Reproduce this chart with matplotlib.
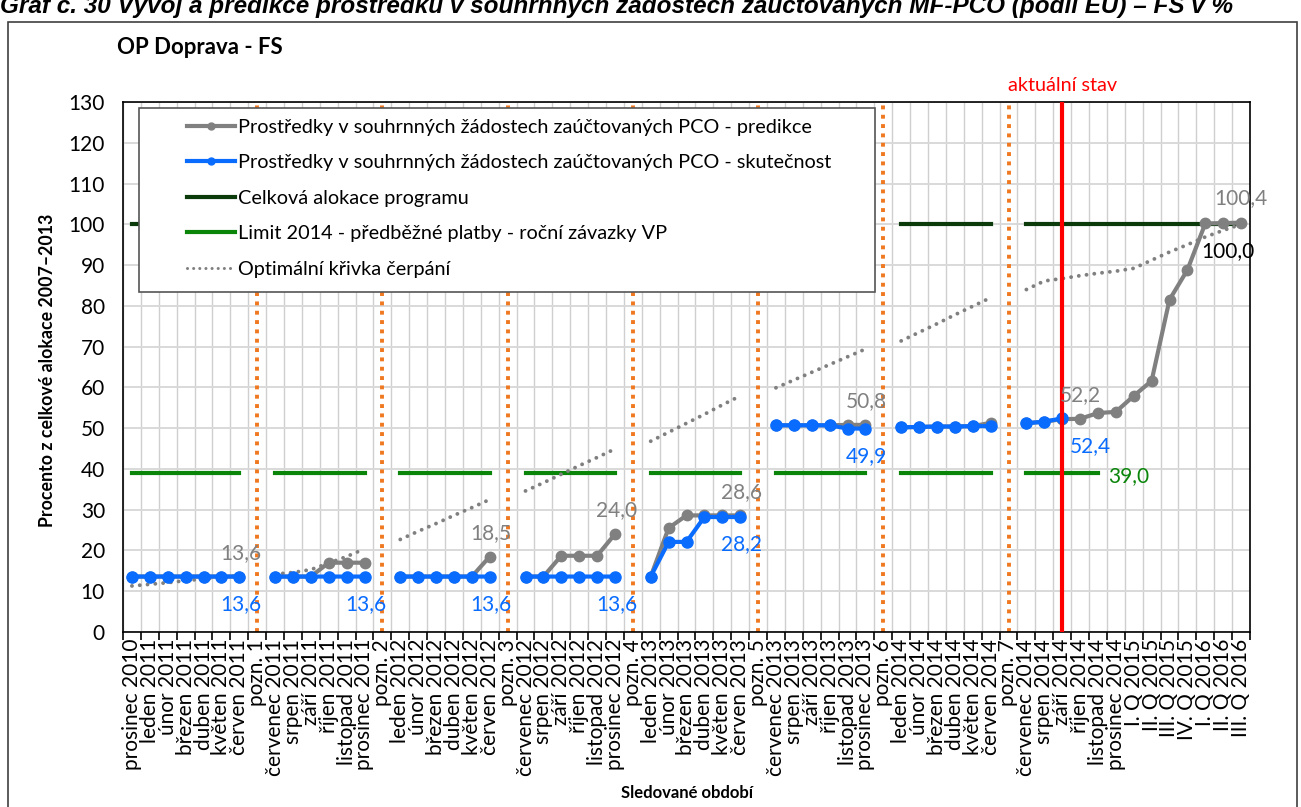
import numpy as np
import matplotlib.pyplot as plt
from matplotlib.lines import Line2D
from matplotlib.patches import Rectangle

plt.rcParams['font.family'] = ['Lato', 'DejaVu Sans']

nan = np.nan

obdobi = [
    'prosinec 2010', 'leden 2011', 'únor 2011', 'březen 2011', 'duben 2011', 'květen 2011', 'červen 2011',
    'pozn. 1',
    'červenec 2011', 'srpen 2011', 'září 2011', 'říjen 2011', 'listopad 2011', 'prosinec 2011',
    'pozn. 2',
    'leden 2012', 'únor 2012', 'březen 2012', 'duben 2012', 'květen 2012', 'červen 2012',
    'pozn. 3',
    'červenec 2012', 'srpen 2012', 'září 2012', 'říjen 2012', 'listopad 2012', 'prosinec 2012',
    'pozn. 4',
    'leden 2013', 'únor 2013', 'březen 2013', 'duben 2013', 'květen 2013', 'červen 2013',
    'pozn. 5',
    'červenec 2013', 'srpen 2013', 'září 2013', 'říjen 2013', 'listopad 2013', 'prosinec 2013',
    'pozn. 6',
    'leden 2014', 'únor 2014', 'březen 2014', 'duben 2014', 'květen 2014', 'červen 2014',
    'pozn. 7',
    'červenec 2014', 'srpen 2014', 'září 2014', 'říjen 2014', 'listopad 2014', 'prosinec 2014',
    'I. Q 2015', 'II. Q 2015', 'III. Q 2015', 'IV. Q 2015', 'I. Q 2016', 'II. Q 2016', 'III. Q 2016',
]

# PCO - predikce (gray)
predikce = [
    13.6, 13.6, 13.6, 13.6, 13.6, 13.6, 13.6, nan,
    13.6, 13.6, 13.6, 17.0, 17.0, 17.0, nan,
    13.6, 13.6, 13.6, 13.6, 13.6, 18.5, nan,
    13.6, 13.6, 18.7, 18.7, 18.7, 24.0, nan,
    13.6, 25.5, 28.6, 28.6, 28.6, 28.6, nan,
    50.7, 50.7, 50.7, 50.7, 50.8, 50.8, nan,
    50.2, 50.3, 50.4, 50.4, 50.5, 51.3, nan,
    51.2, 51.6, 52.2, 52.3, 53.7, 54.0, 57.9, 61.6, 81.5, 88.8, 100.2, 100.3, 100.4,
]

# PCO - skutecnost (blue)
skutecnost = [
    13.6, 13.6, 13.6, 13.6, 13.6, 13.6, 13.6, nan,
    13.6, 13.6, 13.6, 13.6, 13.6, 13.6, nan,
    13.6, 13.6, 13.6, 13.6, 13.6, 13.6, nan,
    13.6, 13.6, 13.6, 13.6, 13.6, 13.6, nan,
    13.6, 22.1, 22.1, 28.2, 28.2, 28.2, nan,
    50.7, 50.7, 50.7, 50.7, 49.9, 49.9, nan,
    50.2, 50.3, 50.4, 50.4, 50.5, 50.5, nan,
    51.2, 51.6, 52.4, nan, nan, nan, nan, nan, nan, nan, nan, nan, nan,
]

optimalni = [
    11.3, 11.7, 12.1, 12.6, 13.0, 13.4, 13.8, nan,
    14.2, 14.6, 15.3, 16.9, 18.5, 20.4, nan,
    22.7, 24.7, 26.6, 28.6, 30.5, 32.5, nan,
    34.6, 36.6, 38.7, 40.8, 42.8, 44.9, nan,
    46.8, 49.0, 51.2, 53.4, 55.7, 57.9, nan,
    59.9, 61.8, 63.7, 65.6, 67.5, 69.4, nan,
    71.4, 73.5, 75.6, 77.8, 79.9, 82.0, nan,
    84.0, 86.1, 86.7, 87.4, 88.0, 88.5, 89.2, 91.2, 93.2, 95.0, 96.9, 98.5, 100.0,
]

alokace = [
    100, 100, 100, 100, 100, 100, 100, nan,
    100, 100, 100, 100, 100, 100, nan,
    100, 100, 100, 100, 100, 100, nan,
    100, 100, 100, 100, 100, 100, nan,
    100, 100, 100, 100, 100, 100, nan,
    100, 100, 100, 100, 100, 100, nan,
    100, 100, 100, 100, 100, 100, nan,
    100, 100, 100, 100, 100, 100, 100, 100, 100, 100, 100, 100, 100,
]

limit = [
    39.0, 39.0, 39.0, 39.0, 39.0, 39.0, 39.0, nan,
    39.0, 39.0, 39.0, 39.0, 39.0, 39.0, nan,
    39.0, 39.0, 39.0, 39.0, 39.0, 39.0, nan,
    39.0, 39.0, 39.0, 39.0, 39.0, 39.0, nan,
    39.0, 39.0, 39.0, 39.0, 39.0, 39.0, nan,
    39.0, 39.0, 39.0, 39.0, 39.0, 39.0, nan,
    39.0, 39.0, 39.0, 39.0, 39.0, 39.0, nan,
    39.0, 39.0, 39.0, 39.0, 39.0, nan, nan, nan, nan, nan, nan, nan, nan,
]

legend_labels = [
    'Prostředky v souhrnných žádostech zaúčtovaných PCO - predikce',
    'Prostředky v souhrnných žádostech zaúčtovaných PCO - skutečnost',
    'Celková alokace programu',
    'Limit 2014 - předběžné platby - roční závazky VP',
    'Optimální křivka čerpání',
]

pozn = [i for i, o in enumerate(obdobi) if o.startswith('pozn')]
aktualni = obdobi.index('září 2014')

GRAY = '#808080'
BLUE = '#0A6CFF'
DKGREEN = '#0B3A0B'
GREEN = '#0A850A'
ORANGE = '#F07820'
FS = 15       # tick + data labels
LFS = 14.3    # legend

W, H = 1301, 807
fig = plt.figure(figsize=(W / 100, H / 100), dpi=100)


def fx(px):
    return px / W


def fy(py):
    return 1 - py / H


ax = fig.add_axes([fx(123), fy(632), fx(1250) - fx(123), fy(102) - fy(632)])
x = np.arange(len(obdobi))

ax.set_xlim(-0.5, len(obdobi) - 0.5)
ax.set_ylim(0, 130)
ax.set_yticks(range(0, 131, 10))
ax.set_xticks(np.arange(-0.5, len(obdobi), 1))
ax.set_xticklabels([])
ax.set_xticks(x, minor=True)
ax.set_xticklabels(obdobi, minor=True, rotation=90)
ax.tick_params(axis='x', which='major', length=6, width=1.2, color='black')
ax.tick_params(axis='x', which='minor', length=0, pad=5, labelsize=FS)
ax.tick_params(axis='y', length=0, pad=13, labelsize=FS)
ax.grid(axis='y', color='#D9D9D9', lw=1.4)
ax.grid(axis='x', which='major', color='#CFCFCF', lw=1.0)
ax.set_axisbelow(True)
for s in ax.spines.values():
    s.set_linewidth(1.2)
    s.set_color('black')

for p in pozn:
    ax.axvline(p, color=ORANGE, lw=2.8, linestyle=(0, (1, 1.4)), zorder=2)

ax.plot(x, alokace, color=DKGREEN, lw=3, zorder=3)
ax.plot(x, limit, color=GREEN, lw=3, zorder=3)
ax.plot(x, optimalni, color=GRAY, lw=2.8, linestyle=(0, (0.01, 2.0)),
        dash_capstyle='round', zorder=3)
ax.plot(x, predikce, color=GRAY, lw=3, marker='o', ms=7.5, zorder=4)
ax.plot(x, skutecnost, color=BLUE, lw=3, marker='o', ms=8, zorder=5)
ax.axvline(aktualni, color='red', lw=3, zorder=6)


def fmt(v):
    return f'{v:.1f}'.replace('.', ',')


def label(i, series, dx, dy, color):
    ax.annotate(fmt(series[i]), (i, series[i]), xytext=(dx, dy), textcoords='offset points',
                ha='center', va='center', color=color, fontsize=FS, zorder=7)


# gray labels above, blue below (ends of segments)
for i in [6, 20, 27, 34, 41]:
    label(i, predikce, 1, 17, GRAY)
for i in [6, 13, 20, 27, 34, 41]:
    label(i, skutecnost, 1, -19.5, BLUE)
label(aktualni, predikce, 13, 17, GRAY)
label(aktualni, skutecnost, 20, -20, BLUE)
label(len(obdobi) - 1, predikce, 0, 18, GRAY)
label(len(obdobi) - 1, alokace, -9.5, -19.5, 'black')
last_limit = max(i for i, v in enumerate(limit) if not np.isnan(v))
label(last_limit, limit, 22, -2, GREEN)

ax.annotate('aktuální stav', xy=(aktualni, 1), xycoords=('data', 'axes fraction'),
            xytext=(0, 12), textcoords='offset points', ha='center', va='center',
            color='red', fontsize=14.3)

# legend box
fig.add_artist(Rectangle((fx(139), fy(292)), fx(875) - fx(139), fy(108) - fy(292),
                         transform=fig.transFigure, facecolor='white', edgecolor='#555555',
                         lw=1.2, zorder=4))
handles = [
    Line2D([], [], color=GRAY, lw=3, marker='o', ms=5),
    Line2D([], [], color=BLUE, lw=3, marker='o', ms=5),
    Line2D([], [], color=DKGREEN, lw=3),
    Line2D([], [], color=GREEN, lw=3),
    Line2D([], [], color=GRAY, lw=2.2, linestyle=(0, (0.01, 2.0)), dash_capstyle='round'),
]
leg = fig.legend(handles, legend_labels, loc='upper left', bbox_to_anchor=(fx(176), fy(108)),
                 frameon=False, fontsize=LFS, handlelength=2.4, handletextpad=0.15,
                 labelspacing=0.93, borderpad=0.55, borderaxespad=0)
leg.set_zorder(5)

# outer chart frame
fig.add_artist(Rectangle((fx(8), -0.01), fx(1297) - fx(8), fy(22) + 0.01,
                         transform=fig.transFigure, fill=False, edgecolor='#404040', lw=1.2))

fig.text(fx(117), fy(47), 'OP Doprava - FS', fontsize=16, fontweight='bold', va='center')
fig.text(fx(48), fy(370), 'Procento z celkové alokace 2007–2013', rotation=90,
         fontsize=12.8, fontweight='bold', ha='center', va='center')
fig.text(fx(687), fy(793), 'Sledované období', fontsize=12, fontweight='bold',
         ha='center', va='center')
fig.text(fx(0), fy(13), 'Graf č. 30 Vývoj a predikce prostředků v souhrnných žádostech '
         'zaúčtovaných MF-PCO (podíl EU) – FS v %', family=['Liberation Sans', 'DejaVu Sans'],
         style='italic', fontweight='bold', fontsize=17.5, va='baseline')

fig.savefig('out.png', dpi=100)
